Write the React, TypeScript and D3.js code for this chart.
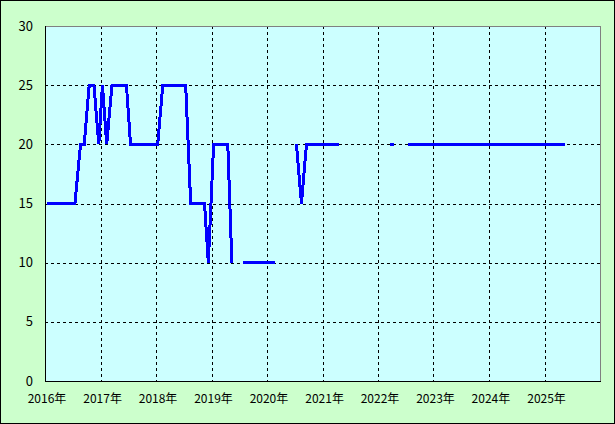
import React from "react";
import * as d3 from "d3";

const dates: (string | null)[] = [
  "2016-01-16", "2016-07-16", "2016-08-22", "2016-09-15", "2016-10-18", "2016-11-18",
  "2016-12-20", "2017-01-13", "2017-02-10", "2017-03-17", "2017-06-20", "2017-07-17",
  "2018-01-12", "2018-02-14", "2018-07-15", "2018-08-17", "2018-11-16", "2018-12-11",
  "2019-01-15", "2019-04-18", "2019-05-15", null,
  "2019-07-24", "2020-02-20", null,
  "2020-07-13", "2020-08-15", "2020-09-17", "2021-04-16", null,
  "2022-03-24", "2022-04-19", null,
  "2022-07-19", "2025-05-16",
];
const values: (number | null)[] = [
  15, 15, 20, 20, 25, 25,
  20, 25, 20, 25, 25, 20,
  20, 25, 25, 15, 15, 10,
  20, 20, 10, null,
  10, 10, null,
  20, 15, 20, 20, null,
  20, 20, null,
  20, 20,
];
const yTicks = [0, 5, 10, 15, 20, 25, 30];
const yearTicks = [2016, 2017, 2018, 2019, 2020, 2021, 2022, 2023, 2024, 2025];

const W = 615, H = 424;
const L = 45, R = 600, T = 26, B = 381;

export default function App() {
  const x = d3.scaleTime()
    .domain([new Date(2016, 0, 1), new Date(2026, 0, 1)])
    .range([L, R]);
  const y = d3.scaleLinear().domain([0, 30]).range([B, T]);
  const data = dates.map((d, i) => ({
    d: d ? new Date(d + "T00:00:00") : null,
    v: values[i],
  }));
  const line = d3.line<{ d: Date | null; v: number | null }>()
    .defined((p) => p.d !== null && p.v !== null)
    .x((p) => x(p.d as Date))
    .y((p) => y(p.v as number));
  const font = "'Noto Sans CJK JP', 'DejaVu Sans', sans-serif";
  return (
    <svg width={W} height={H} style={{ position: "absolute", left: 0, top: 0 }}>
      <rect x={0.5} y={0.5} width={W - 1} height={H - 1} fill="#CCFFCC" stroke="#000" />
      <rect x={L} y={T} width={R - L} height={B - T} fill="#CCFFFF" />
      {yTicks.filter((t) => t > 0 && t < 30).map((t) => (
        <line key={"h" + t} x1={L} x2={R} y1={Math.round(y(t)) + 0.5} y2={Math.round(y(t)) + 0.5}
          stroke="#000" strokeDasharray="3,3" shapeRendering="crispEdges" />
      ))}
      {yearTicks.filter((t) => t > 2016).map((t) => {
        const xx = Math.round(x(new Date(t, 0, 1))) + 0.5;
        return (
          <line key={"v" + t} x1={xx} x2={xx} y1={T} y2={B}
            stroke="#000" strokeDasharray="3,3" shapeRendering="crispEdges" />
        );
      })}
      <line x1={L} x2={R} y1={T + 0.5} y2={T + 0.5} stroke="#808080" shapeRendering="crispEdges" />
      <line x1={R + 0.5} x2={R + 0.5} y1={T} y2={B} stroke="#808080" shapeRendering="crispEdges" />
      <line x1={L + 0.5} x2={L + 0.5} y1={T} y2={B} stroke="#000" shapeRendering="crispEdges" />
      <line x1={L} x2={R + 1} y1={B + 0.5} y2={B + 0.5} stroke="#000" shapeRendering="crispEdges" />
      <path d={line(data) || ""} fill="none" stroke="#0000FF" strokeWidth={3}
        strokeLinejoin="miter" shapeRendering="crispEdges" />
      {yTicks.map((t) => (
        <text key={"yl" + t} x={33} y={y(t)} dy="0.35em" textAnchor="end"
          fontFamily={font} fontSize={13} fill="#000">{t}</text>
      ))}
      {yearTicks.map((t) => (
        <text key={"xl" + t} x={x(new Date(t, 0, 1)) + 2} y={399} dy="0.35em" textAnchor="middle"
          fontFamily={font} fontSize={12} fill="#000">{t + "年"}</text>
      ))}
    </svg>
  );
}
